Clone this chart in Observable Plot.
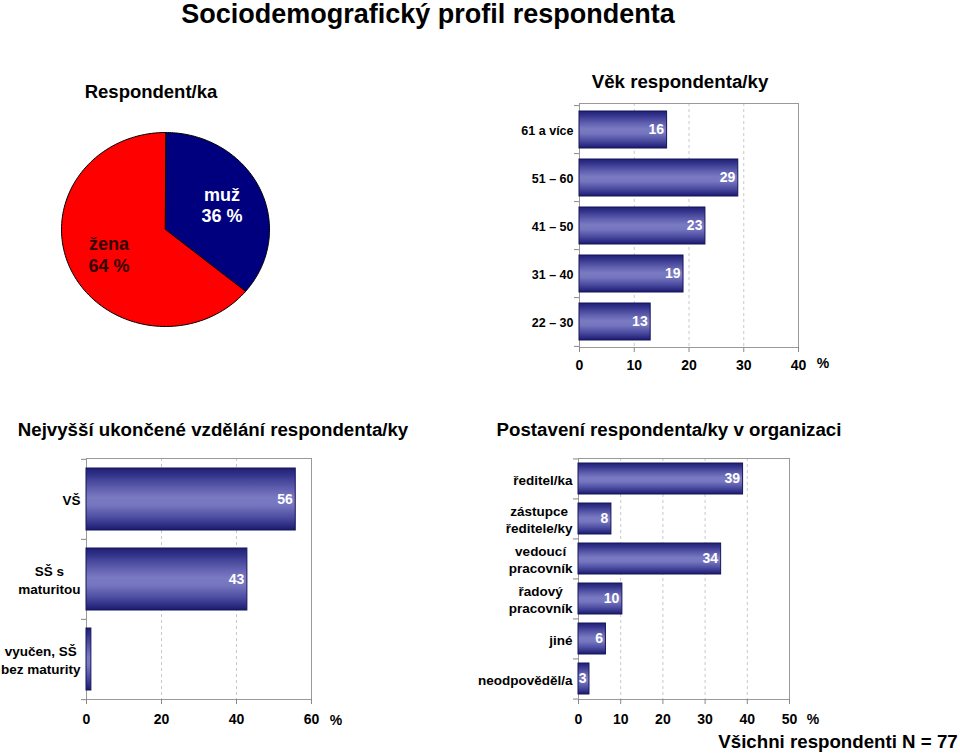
<!DOCTYPE html>
<html><head><meta charset="utf-8">
<script src="https://cdn.jsdelivr.net/npm/d3@7"></script>
<script src="https://cdn.jsdelivr.net/npm/@observablehq/plot@0.6"></script>
<style>
body{margin:0;background:#fff;font-family:"Liberation Sans",Arial,sans-serif;}
#root{position:relative;width:960px;height:754px;overflow:hidden;background:#fff;}
.abs{position:absolute;}
.t{position:absolute;white-space:nowrap;color:#000;transform:translate(-50%,-50%);line-height:1;}
</style></head><body><div id="root"></div>
<script>
// ---------- data ----------
const mainTitle = "Sociodemografický profil respondenta";
const footNote = "Všichni respondenti N = 77";

const genderTitle = "Respondent/ka";
const genderLabels = ["muž", "žena"];
const genderValues = [36, 64];

const ageTitle = "Věk respondenta/ky";
const ageCategories = ["61 a více", "51 – 60", "41 – 50", "31 – 40", "22 – 30"];
const ageValues = [16, 29, 23, 19, 13];
const ageTicks = [0, 10, 20, 30, 40];

const eduTitle = "Nejvyšší ukončené vzdělání respondenta/ky";
const eduCategories = ["VŠ", "SŠ s\nmaturitou", "vyučen, SŠ\nbez maturity"];
const eduValues = [55.8, 42.9, 1.3];
const eduLabels = ["56", "43", ""];
const eduTicks = [0, 20, 40, 60];

const posTitle = "Postavení respondenta/ky v organizaci";
const posCategories = ["ředitel/ka", "zástupce\nředitele/ky", "vedoucí\npracovník", "řadový\npracovník", "jiné", "neodpověděl/a"];
const posValues = [39.0, 7.8, 33.8, 10.4, 6.5, 2.6];
const posLabels = ["39", "8", "34", "10", "6", "3"];
const posTicks = [0, 10, 20, 30, 40, 50];

// ---------- helpers ----------
const FONT = "'Liberation Sans', Arial, sans-serif";
const root = document.getElementById("root");
function place(node, left, top) {
  const d = document.createElement("div");
  d.className = "abs"; d.style.left = left + "px"; d.style.top = top + "px";
  d.appendChild(node); root.appendChild(d);
}
function label(text, cx, cy, size, weight) {
  const d = document.createElement("div");
  d.className = "t"; d.textContent = text;
  d.style.left = cx + "px"; d.style.top = cy + "px";
  d.style.fontSize = size + "px"; d.style.fontWeight = weight || "normal";
  root.appendChild(d);
}
const ctx = document.createElement("canvas").getContext("2d");
function measure(s, size) { ctx.font = `bold ${size}px ${FONT}`; return ctx.measureText(s).width; }

function addGradient(svg, id) {
  const ns = "http://www.w3.org/2000/svg";
  const defs = document.createElementNS(ns, "defs");
  const g = document.createElementNS(ns, "linearGradient");
  g.setAttribute("id", id); g.setAttribute("x1", "0"); g.setAttribute("y1", "0");
  g.setAttribute("x2", "0"); g.setAttribute("y2", "1");
  [[0, "#1f1f74"], [0.12, "#34348c"], [0.3, "#5a5aab"], [0.48, "#7a7ac3"], [0.6, "#7676c0"],
   [0.78, "#5050a4"], [0.92, "#2e2e86"], [1, "#1a1a6a"]].forEach(([o, c]) => {
    const s = document.createElementNS(ns, "stop");
    s.setAttribute("offset", o); s.setAttribute("stop-color", c); g.appendChild(s);
  });
  defs.appendChild(g);
  svg.insertBefore(defs, svg.firstChild);
}

function barChart({cats, vals, labs, ticks, xmax, width, height, ml, mr, mt, mb, catSize, tickPad, gradId}) {
  const data = cats.map((c, i) => ({c, v: vals[i], lab: labs[i]}));
  const step = (height - mt - mb) / cats.length;
  const catMarks = cats.map(c => {
    const lines = c.split("\n");
    const w = Math.max(...lines.map(l => measure(l, catSize)));
    return Plot.text([c], {y: d => d, text: d => d, frameAnchor: "left", textAnchor: "middle",
      dx: -(6 + w / 2), fontSize: catSize, fontWeight: "bold", lineHeight: 1.3, fill: "#000"});
  });
  const p = Plot.plot({
    width, height, marginLeft: ml, marginRight: mr, marginTop: mt, marginBottom: mb,
    style: {fontFamily: FONT, fontSize: "14px", fontWeight: "bold", color: "#000", background: "transparent", overflow: "visible"},
    x: {domain: [0, xmax], label: null},
    y: {domain: cats, paddingInner: 0.23, paddingOuter: 0.115, axis: null, label: null},
    marks: [
      Plot.gridX(ticks, {stroke: "#c8c8c8", strokeOpacity: 1, strokeDasharray: "3,3"}),
      Plot.frame({stroke: "#999"}),
      // category boundary ticks on the left axis
      Plot.ruleY(cats, {y: d => d, x1: 0, x2: 0, insetLeft: -5, dy: -step / 2, stroke: "#888"}),
      Plot.ruleY(cats.slice(-1), {y: d => d, x1: 0, x2: 0, insetLeft: -5, dy: step / 2, stroke: "#888"}),
      Plot.barX(data, {x: "v", y: "c", fill: `url(#${gradId})`, stroke: "#15155a", strokeWidth: 1}),
      Plot.text(data, {x: "v", y: "c", text: "lab", textAnchor: "end", dx: -3, fill: "#fff", fontSize: 14, fontWeight: "bold"}),
      Plot.axisX({ticks, tickSize: 5, tickPadding: tickPad, stroke: "#888", tickFormat: d => d, label: null, fontSize: 14, fontWeight: "bold", fill: "#000"}),
      ...catMarks
    ]
  });
  addGradient(p, gradId);
  return p;
}

// ---------- titles ----------
label(mainTitle, 428, 14, 27, "bold");
label(genderTitle, 151, 92, 18.5, "bold");
label(ageTitle, 680, 82, 18.7, "bold");
label(eduTitle, 213, 430, 18.7, "bold");
label(posTitle, 669, 430, 18.7, "bold");

// ---------- pie ----------
const total = d3.sum(genderValues);
let acc = 0;
const piePts = [];
const pieLabels = [];
genderLabels.forEach((lab, i) => {
  const a0 = acc / total * 2 * Math.PI;
  acc += genderValues[i];
  const a1 = acc / total * 2 * Math.PI;
  piePts.push({label: lab, x: 0, y: 0});
  const n = 120;
  for (let k = 0; k <= n; k++) {
    const t = a0 + (a1 - a0) * k / n;
    piePts.push({label: lab, x: Math.sin(t), y: Math.cos(t)});
  }
  const m = (a0 + a1) / 2;
  pieLabels.push({label: lab, text: `${lab}\n${genderValues[i]} %`, x: 0.6 * Math.sin(m), y: 0.6 * Math.cos(m)});
});
const pie = Plot.plot({
  width: 260, height: 240, marginLeft: 21, marginRight: 31, marginTop: 22, marginBottom: 24,
  style: {fontFamily: FONT, background: "transparent"},
  x: {domain: [-1, 1], axis: null}, y: {domain: [-1, 1], axis: null},
  color: {domain: genderLabels, range: ["#00007f", "#ff0000"]},
  marks: [
    Plot.line(piePts, {x: "x", y: "y", z: "label", fill: "label", stroke: "#000", strokeWidth: 1, curve: "linear-closed"}),
    Plot.text(pieLabels, {x: "x", y: "y", text: "text", fill: d => d.label === "muž" ? "#ffffff" : "#330000",
      fontSize: 18, fontWeight: "bold", lineHeight: 1.2})
  ]
});
place(pie, 40, 110);

// ---------- bar charts ----------
place(barChart({cats: ageCategories, vals: ageValues, labs: ageValues.map(String), ticks: ageTicks, xmax: 40,
  width: 360, height: 290, ml: 109, mr: 32, mt: 8, mb: 38, catSize: 12.5, tickPad: 8, gradId: "gAge"}), 470, 95);
label("%", 823, 363, 14, "bold");

place(barChart({cats: eduCategories, vals: eduValues, labs: eduLabels, ticks: eduTicks, xmax: 60,
  width: 345, height: 285, ml: 86, mr: 34, mt: 8, mb: 36, catSize: 13.5, tickPad: 10, gradId: "gEdu"}), 0, 450);
label("%", 336, 720, 14, "bold");

place(barChart({cats: posCategories, vals: posValues, labs: posLabels, ticks: posTicks, xmax: 50,
  width: 345, height: 285, ml: 108, mr: 26, mt: 8, mb: 36, catSize: 13.5, tickPad: 10, gradId: "gPos"}), 470, 450);
label("%", 813, 719, 14, "bold");

label(footNote, 838, 742, 18.7, "bold");
</script></body></html>
